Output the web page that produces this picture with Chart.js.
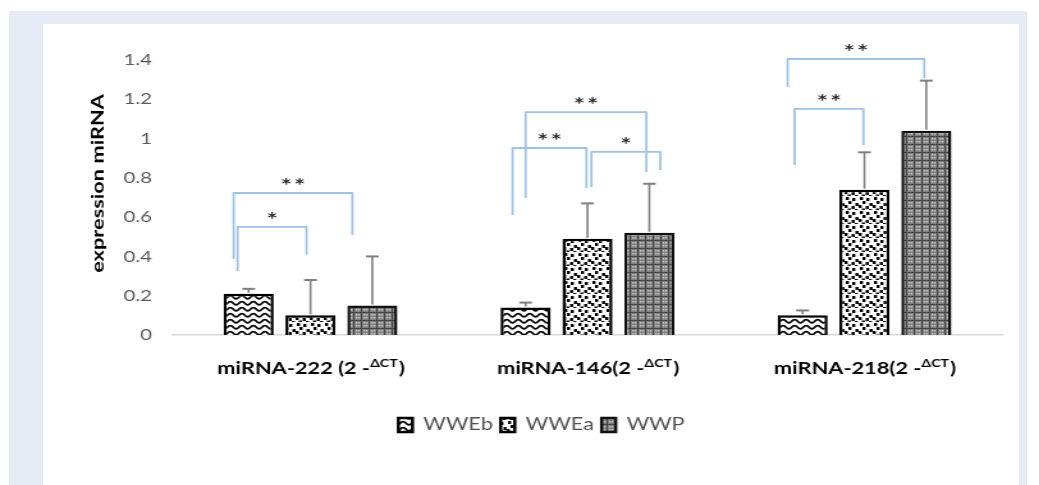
<!DOCTYPE html>
<html>
<head>
<meta charset="utf-8">
<script src="https://cdn.jsdelivr.net/npm/chart.js@4"></script>
<style>
  body { margin:0; background:#fff; overflow:hidden; }
  #frame { position:absolute; left:9px; top:11px; width:1018px; height:474px; background:#e6eaf5; }
  #panel { position:absolute; left:43px; top:24px; width:976px; height:461px; background:#fff; }
  /* the source picture is stretched sideways, so the canvas is too */
  #wrap { position:absolute; left:0; top:0; width:812px; height:485px; transform:scaleX(1.2796); transform-origin:0 0; }
</style>
</head>
<body>
<div id="frame"></div>
<div id="panel"></div>
<div id="wrap"><canvas id="c" width="812" height="485"></canvas></div>
<script>
"use strict";
// data
const categories = ["miRNA-222 (2 -", "miRNA-146(2 -", "miRNA-218(2 -"];
const supText = "ΔCT";
const seriesNames = ["WWEb", "WWEa", "WWP"];
const wweb = [0.21, 0.14, 0.10];
const wwea = [0.10, 0.49, 0.74];
const wwp  = [0.15, 0.52, 1.04];
const wwebErr = [0.025, 0.025, 0.025];
const wweaErr = [0.18, 0.18, 0.19];
const wwpErr  = [0.25, 0.25, 0.255];
const yTicks = [0, 0.2, 0.4, 0.6, 0.8, 1, 1.2, 1.4];
const yTitle = "expression miRNA";
// significance brackets: category, from series, to series, top, left foot, right foot, stars
const brCat   = [0, 0, 1, 1, 1, 2, 2];
const brFrom  = [0, 0, 0, 0, 1, 0, 0];
const brTo    = [1, 2, 2, 1, 2, 2, 1];
const brTop   = [0.55, 0.723, 1.135, 0.952, 0.932, 1.405, 1.151];
const brLeft  = [0.326, 0.387, 0.698, 0.611, 0.754, 1.263, 0.866];
const brRight = [0.41, 0.509, 0.83, 0.748, 0.84, 1.309, 0.967];
const brStars = [1, 2, 2, 2, 1, 2, 2];

// little pixel nudges for the bracket legs (canvas px)
const nudgeL = [-8.6, -11.7, 0, -10.2, 3.1, -11.7, -6.3];
const nudgeR = [-3.1, -15.6, -2.3, -0.8, 8.6, -1.6, -0.8];
const SX = 1.2796;

function tile(w, h, paint){
    let cv = document.createElement("canvas");
    cv.width = w; cv.height = h;
    let g = cv.getContext("2d");
    paint(g);
    return g.createPattern(cv, "repeat");
}
let waves = tile(9, 6, function(g){
    g.fillStyle = "#fff"; g.fillRect(0,0,9,6);
    g.strokeStyle = "#000"; g.lineWidth = 1.7;
    g.beginPath();
    for (let x = -1; x <= 10; x += 0.5) {
        let y = 3.2 - 1.6*Math.cos(2*Math.PI*x/9);
        if (x === -1) g.moveTo(x,y); else g.lineTo(x,y);
    }
    g.stroke();
});
let confetti = tile(11, 14, function(g){
    g.fillStyle = "#fff"; g.fillRect(0,0,11,14);
    g.fillStyle = "#000";
    [[1,1],[6,2],[3,5],[8.5,7],[0,9],[5.5,10],[2.5,12.5],[8,13]].forEach(p => g.fillRect(p[0],p[1],2.4,3));
});
let plaid = tile(6, 8, function(g){
    g.fillStyle = "#808080"; g.fillRect(0,0,6,8);
    g.fillStyle = "#454545"; g.fillRect(0,0,6,1); g.fillRect(0,0,1,8);
    g.fillStyle = "#c8c8c8";
    [[2,2],[4,2],[2,5],[4,5]].forEach(p => g.fillRect(p[0],p[1],1.2,1.5));
});

const errs = [wwebErr, wweaErr, wwpErr];

const errorBars = {
    id: "errorBars",
    afterDatasetsDraw(chart){
        let ctx = chart.ctx, ys = chart.scales.y;
        ctx.save();
        ctx.strokeStyle = "#7f7f7f";
        chart.data.datasets.forEach(function(ds, i){
            chart.getDatasetMeta(i).data.forEach(function(bar, j){
                let top = ys.getPixelForValue(ds.data[j] + errs[i][j]);
                ctx.lineWidth = 1.6;
                ctx.beginPath(); ctx.moveTo(bar.x, bar.y - 1); ctx.lineTo(bar.x, top); ctx.stroke();
                ctx.lineWidth = 2;
                ctx.beginPath(); ctx.moveTo(bar.x - 5, top); ctx.lineTo(bar.x + 5, top); ctx.stroke();
            });
        });
        ctx.restore();
    }
};

const extras = {
    id: "extras",
    afterDraw(chart){
        let ctx = chart.ctx, ys = chart.scales.y, xs = chart.scales.x, area = chart.chartArea;
        ctx.save();
        for (let k = 0; k < brCat.length; k++) {
            let xl = chart.getDatasetMeta(brFrom[k]).data[brCat[k]].x + nudgeL[k];
            let xr = chart.getDatasetMeta(brTo[k]).data[brCat[k]].x + nudgeR[k];
            let yt = ys.getPixelForValue(brTop[k]);
            ctx.strokeStyle = "#9dc3e6"; ctx.lineWidth = 1.8; ctx.lineJoin = "round";
            ctx.beginPath();
            ctx.moveTo(xl, ys.getPixelForValue(brLeft[k]));
            ctx.lineTo(xl, yt); ctx.lineTo(xr, yt);
            ctx.lineTo(xr, ys.getPixelForValue(brRight[k]));
            ctx.stroke();
            ctx.fillStyle = "#262626";
            ctx.font = "bold 14px 'DejaVu Sans'";
            ctx.textAlign = "center"; ctx.textBaseline = "alphabetic";
            let cx = (xl + xr)/2;
            for (let s = 0; s < brStars[k]; s++) {
                ctx.fillText("*", cx + (s - (brStars[k]-1)/2)*10.5, yt - 5);
            }
        }
        // category labels with the superscript
        ctx.fillStyle = "#000"; ctx.textBaseline = "alphabetic"; ctx.textAlign = "left";
        categories.forEach(function(lab, i){
            let cx = xs.getPixelForTick(i);
            ctx.font = "bold 17px Lato";
            let w1 = ctx.measureText(lab).width;
            let w3 = ctx.measureText(")").width;
            ctx.font = "bold 11px Lato";
            let w2 = ctx.measureText(supText).width;
            let x0 = cx - (w1 + w2 + w3)/2, yb = area.bottom + 39;
            ctx.font = "bold 17px Lato";
            ctx.fillText(lab, x0, yb);
            ctx.font = "bold 11px Lato";
            ctx.fillText(supText, x0 + w1, yb - 7);
            ctx.font = "bold 17px Lato";
            ctx.fillText(")", x0 + w1 + w2 + 1, yb);
        });
        // y title, drawn so that it is stretched along its length like the other texts
        ctx.translate(ys.left + 14, (area.top + area.bottom)/2 - 14);
        ctx.rotate(-Math.PI/2);
        ctx.scale(SX, 1/SX);
        ctx.font = "bold 17px Lato";
        ctx.textAlign = "center"; ctx.textBaseline = "middle";
        ctx.fillText(yTitle, 0, 0);
        ctx.restore();
    }
};

let chart = new Chart(document.getElementById("c"), {
    type: "bar",
    data: {
        labels: categories.map(c => c + supText + ")"),
        datasets: [
            { label: seriesNames[0], data: wweb, backgroundColor: waves, borderColor: "#000", borderWidth: 2.5 },
            { label: seriesNames[1], data: wwea, backgroundColor: confetti, borderColor: "#000", borderWidth: 2.5 },
            { label: seriesNames[2], data: wwp, backgroundColor: plaid, borderColor: "#111", borderWidth: 2.5 }
        ]
    },
    options: {
        responsive: false,
        animation: false,
        devicePixelRatio: 1,
        layout: { padding: { left: 62.6, right: 28.2, top: 60, bottom: 41.5 } },
        datasets: { bar: { categoryPercentage: 0.67, barPercentage: 0.81 } },
        scales: {
            x: {
                grid: { display: false },
                border: { display: true, color: "#d9d9d9", width: 1.5 },
                ticks: { display: false },
                afterFit(s){ s.height = 75.5; }
            },
            y: {
                min: 0, max: 1.4,
                afterBuildTicks(s){ s.ticks = yTicks.map(v => ({ value: v })); },
                grid: { display: false, drawTicks: false },
                border: { display: false },
                ticks: { color: "#595959", font: { family: "Lato", size: 16 }, padding: 15.6, callback: v => String(v) },
                afterFit(s){ s.width = 71.8; }
            }
        },
        plugins: {
            legend: {
                position: "bottom",
                labels: { color: "#505050", font: { family: "Lato", size: 17 }, boxWidth: 11, boxHeight: 14, padding: 6 }
            },
            tooltip: { enabled: false }
        }
    },
    plugins: [errorBars, extras]
});
</script>
</body>
</html>
